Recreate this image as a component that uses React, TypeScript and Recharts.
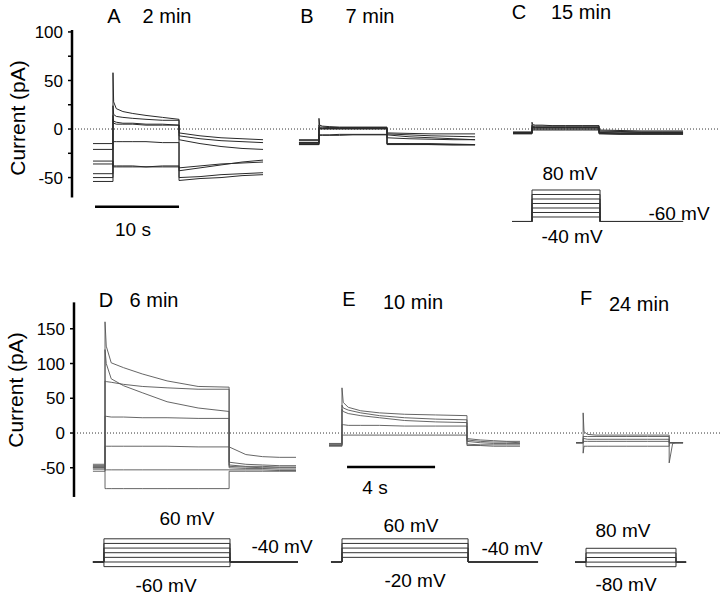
import { LineChart, Line, XAxis, YAxis, ReferenceLine } from "recharts";

// sample positions inside the pulse / post-pulse segment (fraction of segment length)
const pulseFrac = [0, 0.01, 0.05, 0.15, 0.3, 0.5, 0.75, 1];
const postFrac = [0, 0.25, 0.5, 0.75, 1];

// timing in seconds: [trace start, pulse on, pulse off, trace end]
const timingA = [2.5, 4.88, 12.74, 22.74];
const timingB = [27.02, 29.4, 37.5, 47.98];
const timingC = [52.5, 54.76, 62.74, 72.74];
const timingD = [0.86, 1.41, 7.05, 10.09];
const timingE = [11.59, 12.18, 17.86, 20.27];
const timingF = [22.82, 23.14, 27.05, 27.68];

// panel A (2 min), pA
const preA = [-46, -50, -54, -21, -15, -33, -36];
const pulseA = [
  [58, 28, 21, 18, 16, 14, 12, 10],
  [24, 15, 13, 12, 11, 10, 9, 9],
  [14, 8, 7, 6, 6, 5, 5, 4],
  [10, 6, 5, 5, 5, 4, 4, 4],
  [-13, -13, -13, -13, -13, -13, -14, -14],
  [-38, -38, -38, -38, -38, -39, -38, -38],
  [-39, -39, -39, -39, -39, -39, -39, -39],
];
const postA = [
  [-4, -7, -9, -10, -11],
  [-7, -10, -12, -13, -14],
  [-11, -15, -18, -20, -21],
  [-40, -38, -36, -35, -34],
  [-43, -40, -37, -34, -32],
  [-50, -49, -47, -46, -45],
  [-53, -51, -50, -48, -47],
];

// panel B (7 min)
const preB = [-11, -12, -14, -14, -15, -16, -16];
const pulseB = [
  [11, 4, 3, 2.5, 2, 2, 2, 2],
  [4, 2, 2, 1.5, 1.5, 1.5, 1.5, 1.5],
  [2, 1, 1, 1, 1, 1, 1, 1],
  [1, 0.5, 0.5, 0.5, 0.5, 0.5, 0.5, 0.5],
  [0, 0, 0, 0, 0, 0, 0, 0],
  [-6, -6, -6, -6, -5.5, -5.5, -5.5, -5.5],
  [-6.5, -6.5, -6.5, -6.5, -6.5, -6, -6, -6],
];
const postB = [
  [-4, -4.5, -5, -5, -5],
  [-5, -6, -7, -7.5, -8],
  [-6, -8, -9, -10, -11],
  [-9, -10, -10.5, -11, -11],
  [-15, -15, -15, -15.5, -16],
  [-15.5, -15.5, -16, -16, -16],
  [-16, -16, -16, -16.5, -16.5],
];

// panel C (15 min)
const preC = [-3, -3.5, -4, -4, -4.5, -4.5, -5];
const pulseC = [
  [7, 4.5, 4, 4, 3.5, 3.5, 3.5, 3.5],
  [4, 3, 3, 3, 3, 3, 3, 3],
  [3, 2.5, 2, 2, 2, 2, 2, 2],
  [2, 1.5, 1.5, 1.5, 1.5, 1.5, 1.5, 1.5],
  [1, 1, 1, 1, 1, 1, 1, 1],
  [0, 0, 0, 0, 0, 0, 0, 0],
  [-1, -1, -1, -1, -1, -1, -1, -1],
];
const postC = [
  [-1, -1.5, -2, -2, -2],
  [-2, -2.5, -3, -3, -3],
  [-3, -3, -3.5, -3.5, -3.5],
  [-3.5, -4, -4, -4, -4],
  [-4, -4.5, -4.5, -4.5, -4.5],
  [-4.5, -5, -5, -5, -5],
  [-5, -5.5, -5.5, -5.5, -5.5],
];

// panel D (6 min)
const preD = [-50, -52, -48, -45, -55, -50, -47];
const pulseD = [
  [160, 125, 101, 94, 85, 75, 67, 66],
  [75, 74, 73, 70, 67, 65, 63, 63],
  [120, 100, 78, 68, 58, 45, 36, 31],
  [24, 24, 23, 23, 22, 22, 21, 21],
  [-19, -19, -19, -19, -19, -19, -20, -20],
  [-53, -53, -53, -53, -53, -53, -53, -53],
  [-80, -80, -80, -80, -80, -80, -80, -80],
];
const postD = [
  [-20, -31, -34, -35, -35],
  [-42, -45, -46, -47, -47],
  [-46, -48, -48, -49, -49],
  [-48, -49, -50, -50, -50],
  [-50, -51, -51, -52, -52],
  [-53, -53, -53, -54, -54],
  [-55, -55, -55, -55, -55],
];

// panel E (10 min)
const preE = [-15, -16, -17, -18, -19];
const pulseE = [
  [65, 44, 37, 32, 29, 27, 26, 25],
  [40, 36, 33, 29, 25, 22, 20, 19],
  [34, 31, 28, 25, 22, 18, 16, 15],
  [12, 12, 11, 11, 11, 10, 10, 10],
  [-3, -3, -3, -3, -3, -3, -3, -3],
];
const postE = [
  [-8, -10, -11, -12, -12],
  [-10, -12, -13, -13, -14],
  [-12, -14, -15, -15, -15],
  [-16, -17, -17, -17, -17],
  [-18, -18, -19, -19, -19],
];

// panel F (24 min)
const preF = [-14, -14, -14, -14, -14];
const pulseF = [
  [29, 2, -2, -3, -3, -3, -3, -3],
  [-5, -5, -5, -5, -5, -5, -5, -5],
  [-8, -8, -9, -9, -9, -9, -9, -9],
  [-12, -12, -12, -12, -12, -12, -12, -12],
  [-29, -19, -19, -19, -19, -19, -19, -19],
];
const postF = [
  [-43, -15, -14, -14, -14],
  [-14, -14, -14, -14, -14],
  [-14, -14, -14, -14, -14],
  [-14, -14, -14, -14, -14],
  [-14, -14, -14, -14, -14],
];

// voltage protocols, mV: [start, step on, step off, end]
const protoTimingC = [52.38, 54.76, 62.86, 72.74];
const protoStepsC = [80, 60, 40, 20, 0, -20, -40];
const protoHoldC = -60;
const protoTimingD = [0.86, 1.36, 7.09, 10.18];
const protoStepsD = [60, 40, 20, 0, -20, -40, -60];
const protoHoldD = -40;
const protoTimingE = [11.68, 12.18, 17.91, 21.09];
const protoStepsE = [60, 40, 20, 0, -20];
const protoHoldE = -40;
const protoTimingF = [22.77, 23.27, 27.36, 27.82];
const protoStepsF = [80, 40, 0, -40, -80];
const protoHoldF = -40;

// scale bars
const scaleTop = { start: 2.74, seconds: 10, level: -80 };
const scaleBottom = { start: 12.41, seconds: 4, level: -49 };

const topTicks = [-50, -25, 0, 25, 50, 75, 100];
const bottomTicks = [-50, 0, 50, 100, 150];

type Pt = { t: number; i?: number; v?: number };

function buildTraces(timing: number[], pre: number[], pulse: number[][], post: number[][]): Pt[][] {
  const [t0, t1, t2, t3] = timing;
  return pre.map((p, k) => [
    { t: t0, i: p },
    { t: t1, i: p },
    ...pulseFrac.map((f, j) => ({ t: t1 + f * (t2 - t1), i: pulse[k][j] })),
    ...postFrac.map((f, j) => ({ t: t2 + f * (t3 - t2), i: post[k][j] })),
  ]);
}

function buildProtocol(timing: number[], steps: number[], hold: number): Pt[][] {
  const [t0, t1, t2, t3] = timing;
  return steps.map((v) => [
    { t: t0, v: hold },
    { t: t1, v: hold },
    { t: t1, v },
    { t: t2, v },
    { t: t2, v: hold },
    { t: t3, v: hold },
  ]);
}

const scaleData = (s: { start: number; seconds: number; level: number }) => [
  { t: s.start, i: s.level },
  { t: s.start + s.seconds, i: s.level },
];

const topTraces = [
  ...buildTraces(timingA, preA, pulseA, postA),
  ...buildTraces(timingB, preB, pulseB, postB),
  ...buildTraces(timingC, preC, pulseC, postC),
];
const bottomTraces = [
  ...buildTraces(timingD, preD, pulseD, postD),
  ...buildTraces(timingE, preE, pulseE, postE),
  ...buildTraces(timingF, preF, pulseF, postF),
];
const topProto = buildProtocol(protoTimingC, protoStepsC, protoHoldC);
const bottomProto = [
  ...buildProtocol(protoTimingD, protoStepsD, protoHoldD),
  ...buildProtocol(protoTimingE, protoStepsE, protoHoldE),
];
const bottomProtoF = buildProtocol(protoTimingF, protoStepsF, protoHoldF);

const FONT = "'Liberation Sans', Arial, sans-serif";

function Txt({ x, y, size = 19, rotate, children }: { x: number; y: number; size?: number; rotate?: boolean; children: string }) {
  return (
    <div
      style={{
        position: "absolute",
        left: x,
        top: y,
        transform: `translate(-50%, -50%)${rotate ? " rotate(-90deg)" : ""}`,
        fontSize: size,
        lineHeight: 1,
        whiteSpace: "nowrap",
        color: "#000",
        fontFamily: FONT,
      }}
    >
      {children}
    </div>
  );
}

const tickStyle = { fill: "#000", fontSize: 17, fontFamily: FONT };

export default function App() {
  return (
    <div style={{ position: "absolute", left: 0, top: 0, width: 720, height: 596, background: "#fff", overflow: "hidden", fontFamily: FONT }}>
      <div style={{ position: "absolute", left: 0, top: 0 }}>
        <LineChart width={720} height={260} margin={{ top: 30, right: 0, bottom: 30, left: 0 }}>
          <XAxis type="number" dataKey="t" domain={[0, 77.14]} hide allowDataOverflow />
          <YAxis
            yAxisId="pA"
            width={72}
            domain={[-104, 102]}
            ticks={topTicks}
            interval={0}
            allowDataOverflow
            axisLine={false}
            tickLine={{ stroke: "#000", strokeWidth: 1.5 }}
            tickSize={4}
            tickMargin={5}
            tick={tickStyle}
            tickFormatter={(v: number) => (v % 50 === 0 ? String(v) : "")}
          />
          <YAxis yAxisId="mv" orientation="right" width={0} hide domain={[-97.8, 791.1]} allowDataOverflow />
          <ReferenceLine yAxisId="pA" y={0} stroke="#333" strokeDasharray="1 2" />
          <ReferenceLine
            yAxisId="pA"
            segment={[{ x: 0, y: -70.5 }, { x: 0, y: 102 }]}
            stroke="#000"
            strokeWidth={2.5}
            ifOverflow="visible"
          />
          {topTraces.map((d, k) => (
            <Line key={"tt" + k} yAxisId="pA" data={d} dataKey="i" type="linear" stroke="#2a2a2a" strokeWidth={1} dot={false} isAnimationActive={false} />
          ))}
          {topProto.map((d, k) => (
            <Line key={"tp" + k} yAxisId="mv" data={d} dataKey="v" type="linear" stroke="#333" strokeWidth={1} dot={false} isAnimationActive={false} />
          ))}
          <Line yAxisId="pA" data={scaleData(scaleTop)} dataKey="i" stroke="#000" strokeWidth={2.5} dot={false} isAnimationActive={false} />
        </LineChart>
      </div>

      <div style={{ position: "absolute", left: 0, top: 280 }}>
        <LineChart width={720} height={316} margin={{ top: 20, right: 0, bottom: 16, left: 0 }}>
          <XAxis type="number" dataKey="t" domain={[0, 29.36]} hide allowDataOverflow />
          <YAxis
            yAxisId="pA"
            width={74}
            domain={[-211.5, 191.4]}
            ticks={bottomTicks}
            interval={0}
            allowDataOverflow
            axisLine={false}
            tickLine={{ stroke: "#000", strokeWidth: 1.5 }}
            tickSize={4}
            tickMargin={5}
            tick={tickStyle}
          />
          <YAxis yAxisId="mv" orientation="right" width={0} hide domain={[-117.6, 1089.3]} allowDataOverflow />
          <YAxis yAxisId="mvF" orientation="right" width={0} hide domain={[-195.7, 2239]} allowDataOverflow />
          <ReferenceLine yAxisId="pA" y={0} stroke="#333" strokeDasharray="1 2" />
          <ReferenceLine
            yAxisId="pA"
            segment={[{ x: 0, y: -92 }, { x: 0, y: 188 }]}
            stroke="#000"
            strokeWidth={2.5}
            ifOverflow="visible"
          />
          {bottomTraces.map((d, k) => (
            <Line key={"bt" + k} yAxisId="pA" data={d} dataKey="i" type="linear" stroke="#555" strokeWidth={0.9} dot={false} isAnimationActive={false} />
          ))}
          {bottomProto.map((d, k) => (
            <Line key={"bp" + k} yAxisId="mv" data={d} dataKey="v" type="linear" stroke="#333" strokeWidth={1} dot={false} isAnimationActive={false} />
          ))}
          {bottomProtoF.map((d, k) => (
            <Line key={"bf" + k} yAxisId="mvF" data={d} dataKey="v" type="linear" stroke="#333" strokeWidth={1} dot={false} isAnimationActive={false} />
          ))}
          <Line yAxisId="pA" data={scaleData(scaleBottom)} dataKey="i" stroke="#000" strokeWidth={2.5} dot={false} isAnimationActive={false} />
        </LineChart>
      </div>

      <Txt x={17} y={118} size={21} rotate>Current (pA)</Txt>
      <Txt x={15} y={390} size={21} rotate>Current (pA)</Txt>

      <Txt x={114} y={16} size={20}>A</Txt>
      <Txt x={167} y={16} size={20}>2 min</Txt>
      <Txt x={307} y={16} size={20}>B</Txt>
      <Txt x={370} y={16} size={20}>7 min</Txt>
      <Txt x={519} y={12} size={20}>C</Txt>
      <Txt x={581} y={12} size={20}>15 min</Txt>
      <Txt x={133} y={229} size={19}>10 s</Txt>
      <Txt x={570} y={173} size={19}>80 mV</Txt>
      <Txt x={572} y={236} size={19}>-40 mV</Txt>
      <Txt x={679} y={213} size={19}>-60 mV</Txt>

      <Txt x={106} y={300} size={20}>D</Txt>
      <Txt x={154} y={300} size={20}>6 min</Txt>
      <Txt x={349} y={299} size={20}>E</Txt>
      <Txt x={413} y={302} size={20}>10 min</Txt>
      <Txt x={586} y={298} size={20}>F</Txt>
      <Txt x={639} y={304} size={20}>24 min</Txt>
      <Txt x={375} y={487} size={19}>4 s</Txt>
      <Txt x={187} y={518} size={19}>60 mV</Txt>
      <Txt x={282} y={546} size={19}>-40 mV</Txt>
      <Txt x={166} y={585} size={19}>-60 mV</Txt>
      <Txt x={411} y={525} size={19}>60 mV</Txt>
      <Txt x={512} y={548} size={19}>-40 mV</Txt>
      <Txt x={415} y={580} size={19}>-20 mV</Txt>
      <Txt x={623} y={530} size={19}>80 mV</Txt>
      <Txt x={626} y={584} size={19}>-80 mV</Txt>
    </div>
  );
}
